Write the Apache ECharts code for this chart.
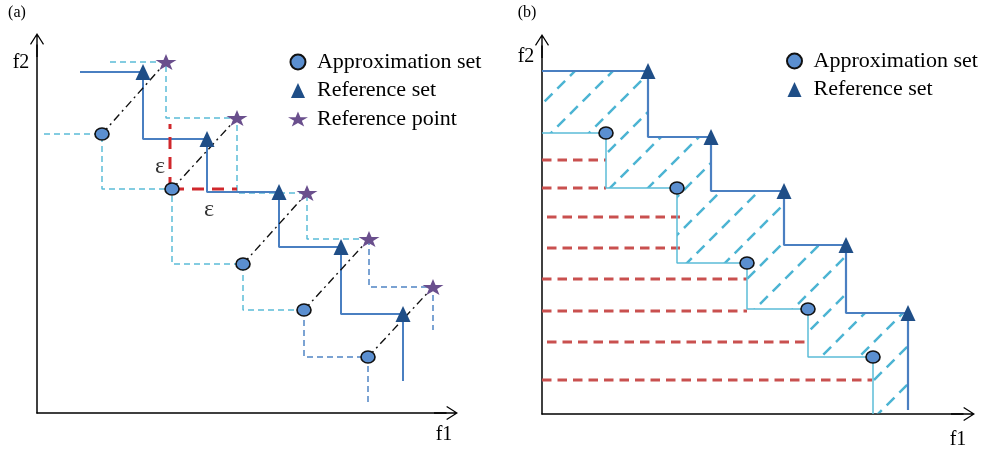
<!DOCTYPE html>
<html>
<head>
<meta charset="utf-8">
<script src="https://cdn.jsdelivr.net/npm/echarts@6/dist/echarts.min.js"></script>
<style>
  html, body { margin: 0; padding: 0; background: #fff; }
  #chart { width: 985px; height: 450px; }
</style>
</head>
<body>
<div id="chart"></div>
<script>
// ---------- Panel (a): additive epsilon indicator ----------
// objective vectors (f1, f2) of each set
const approxA = [[65, 279], [135, 224], [206, 149], [267, 103], [331, 56]];
const refA = [[106, 341], [170, 274], [242, 221], [304, 166], [366, 99]];
const refPointA = [[129, 351], [200, 295], [270, 220], [332, 174], [396, 126]];
// where each attainment front starts (f1) and where it ends (f2)
const approxAStart = 7, approxAEnd = 10;
const refAStart = 43, refAEnd = 32;
const pointAStart = 73, pointAEnd = 83;
// epsilon shift drawn at the second approximation point
const epsVertical = [[133, 224], [133, 289]];
const epsHorizontal = [[135, 224], [200, 224]];
const epsLabels = [[123, 246], [172, 203]];

// ---------- Panel (b): region between the fronts ----------
const approxB = [[64, 281], [135, 226], [205, 151], [266, 105], [331, 57]];
const refB = [[106, 343], [169, 277], [242, 223], [304, 169], [366, 101]];
const refBEnd = 4;
// horizontal dashed levels: f2 value, f1 start, f1 end
const levelsB = [254, 226, 197, 166, 135, 103, 72, 34];
const levelsBFrom = [0, 0, 5, 5, 0, 0, 5, 0];
const levelsBTo = [64, 64, 138, 138, 205, 205, 264, 330];

// ---------- helpers ----------
const SERIF = 'Liberation Serif, Times New Roman, serif';
// five-point star, slightly flattened
const STAR = 'path://M50,0 L61.8,28.1 L98.9,28.1 L69.1,45.4 L80.3,73.5 L50,56.2 L19.7,73.5 L30.9,45.4 L1.1,28.1 L38.2,28.1 Z';
const TRI = 'path://M7.5,0 L15,16 L0,16 Z';
// open chevron with a short shaft, tip at the top
const ARROW = 'path://M0,11 L7,0 L14,11 L13,11.7 L7,2.2 L1,11.7 Z M6.3,1 L7.7,1 L7.7,24 L6.3,24 Z';

// step-shaped front through a set of points
function staircase(pts, startX, endY) {
  const out = [[startX, pts[0][1]]];
  pts.forEach((p, i) => {
    out.push([p[0], p[1]]);
    out.push([p[0], i < pts.length - 1 ? pts[i + 1][1] : endY]);
  });
  return out;
}

function lineSeries(grid, data, color, width, type, z) {
  return {
    type: 'line', xAxisIndex: grid, yAxisIndex: grid, data: data,
    symbol: 'none', silent: true, animation: false, z: z || 2,
    lineStyle: { color: color, width: width, type: type || 'solid', cap: 'butt' }
  };
}

const CYAN = '#5bbcd7';
const BLUE = '#4f84c4';
const FRONT = '#4a7fc1';
const RED_A = '#d0282c';
const RED_B = '#c9504f';

const approxStepA = staircase(approxA, approxAStart, approxAEnd);
const refStepA = staircase(refA, refAStart, refAEnd);
const pointStepA = staircase(refPointA, pointAStart, pointAEnd);
const approxStepB = staircase(approxB, 0, 0);
const refStepB = staircase(refB, 0, refBEnd);
const hatchPolygon = refStepB.concat(approxStepB.slice().reverse());

// diagonal dashed hatch tile
const TILE = 38;
const tile = document.createElement('canvas');
tile.width = TILE; tile.height = TILE;
(function () {
  const c = tile.getContext('2d');
  const period = TILE * Math.SQRT2 / 3;
  c.strokeStyle = '#4cb4d3';
  c.lineWidth = 2.5;
  c.setLineDash([11, period - 11]);
  const ext = 5;
  c.lineDashOffset = period - ext * Math.SQRT2;
  [-TILE, 0, TILE].forEach(off => {
    c.beginPath();
    c.moveTo(off - ext, TILE + ext);
    c.lineTo(off + TILE + ext, -ext);
    c.stroke();
  });
})();

const series = [];

// hatched region between the two fronts (b)
series.push({
  type: 'custom', xAxisIndex: 1, yAxisIndex: 1, data: [0], silent: true, z: 1,
  renderItem: function (params, api) {
    return {
      type: 'polygon',
      shape: { points: hatchPolygon.map(p => api.coord(p)) },
      style: { fill: { image: tile, repeat: 'repeat' }, stroke: null }
    };
  }
});

// (b) dashed levels
levelsB.forEach((y, i) => {
  series.push(lineSeries(1, [[levelsBFrom[i], y], [levelsBTo[i], y]], RED_B, 3, [9.5, 6], 2));
});

// (a) dominated-region borders
series.push(lineSeries(0, approxStepA.slice(0, 8), CYAN, 1.5, [6, 4]));
series.push(lineSeries(0, approxStepA.slice(7), BLUE, 1.5, [6, 4]));
series.push(lineSeries(0, pointStepA.slice(0, 8), CYAN, 1.5, [6, 4]));
series.push(lineSeries(0, pointStepA.slice(7), BLUE, 1.5, [6, 4]));
series.push(lineSeries(0, refStepA, FRONT, 2, 'solid', 3));
// (a) epsilon shift
series.push(lineSeries(0, epsVertical, RED_A, 3, [12, 8], 4));
series.push(lineSeries(0, epsHorizontal, RED_A, 3, [12, 8], 4));
// (a) approximation point -> reference point
approxA.forEach((p, i) => {
  series.push(lineSeries(0, [p, refPointA[i]], '#111', 1.4, [8, 4, 2, 4], 4));
});
// (b) fronts
series.push(lineSeries(1, approxStepB, CYAN, 1.5, 'solid', 3));
series.push(lineSeries(1, refStepB, FRONT, 2.2, 'solid', 3));

// markers
const circleStyle = { color: '#5b8fd0', borderColor: '#111', borderWidth: 1.5, opacity: 1 };
const triStyle = { color: '#1f4e87', opacity: 1 };
const starStyle = { color: '#6a4f8d', opacity: 1 };
[0, 1].forEach(g => {
  series.push({
    name: 'Approximation set', type: 'scatter', xAxisIndex: g, yAxisIndex: g,
    data: g === 0 ? approxA : approxB, symbol: 'circle', symbolSize: [14, 12],
    itemStyle: circleStyle, z: 6, silent: true, animation: false
  });
  series.push({
    name: 'Reference set', type: 'scatter', xAxisIndex: g, yAxisIndex: g,
    data: g === 0 ? refA : refB, symbol: TRI, symbolSize: [15, 16],
    itemStyle: triStyle, z: 6, silent: true, animation: false
  });
});
series.push({
  name: 'Reference point', type: 'scatter', xAxisIndex: 0, yAxisIndex: 0,
  data: refPointA, symbol: STAR, symbolSize: [21, 16],
  itemStyle: starStyle, z: 6, silent: true, animation: false
});
// epsilon labels
series.push({
  type: 'scatter', xAxisIndex: 0, yAxisIndex: 0, data: epsLabels,
  symbolSize: 1, itemStyle: { color: 'rgba(0,0,0,0)' }, silent: true, animation: false, z: 7,
  label: { show: true, position: 'inside', formatter: 'ε', fontFamily: SERIF, fontSize: 24, color: '#000' }
});

function axis(gridIndex, max) {
  return {
    gridIndex: gridIndex, type: 'value', min: 0, max: max,
    axisLine: { show: true, onZero: false, lineStyle: { color: '#000', width: 1.5 },
                symbol: ['none', ARROW], symbolSize: [14, 24] },
    axisTick: { show: false }, axisLabel: { show: false }, splitLine: { show: false }
  };
}

const legendText = { fontFamily: SERIF, fontSize: 22, color: '#000', lineHeight: 22, padding: [0, 0, 0, 3] };

const option = {
  backgroundColor: '#fff',
  animation: false,
  grid: [
    { left: 37, top: 45, width: 409, height: 368 },
    { left: 542, top: 46, width: 421, height: 368 }
  ],
  xAxis: [axis(0, 409), axis(1, 421)],
  yAxis: [axis(0, 368), axis(1, 368)],
  legend: [
    {
      left: 288, top: 51, orient: 'vertical', padding: 0, itemGap: 6.5,
      itemWidth: 22, itemHeight: 15, symbolKeepAspect: true, selectedMode: false, textStyle: legendText,
      data: [
        { name: 'Approximation set', icon: 'circle' },
        { name: 'Reference set', icon: TRI },
        { name: 'Reference point', icon: STAR }
      ]
    },
    {
      left: 786, top: 50, orient: 'vertical', padding: 0, itemGap: 6.5,
      itemWidth: 22, itemHeight: 15, symbolKeepAspect: true, selectedMode: false, textStyle: legendText,
      data: [
        { name: 'Approximation set', icon: 'circle' },
        { name: 'Reference set', icon: TRI }
      ]
    }
  ],
  graphic: [
    { type: 'text', x: 17, y: 13, style: { text: '(a)', font: '16px ' + SERIF, fill: '#000', textAlign: 'center', textVerticalAlign: 'middle' } },
    { type: 'text', x: 527, y: 13, style: { text: '(b)', font: '16px ' + SERIF, fill: '#000', textAlign: 'center', textVerticalAlign: 'middle' } },
    { type: 'text', x: 21, y: 63, style: { text: 'f2', font: '20px ' + SERIF, fill: '#000', textAlign: 'center', textVerticalAlign: 'middle' } },
    { type: 'text', x: 444, y: 435, style: { text: 'f1', font: '20px ' + SERIF, fill: '#000', textAlign: 'center', textVerticalAlign: 'middle' } },
    { type: 'text', x: 526, y: 57, style: { text: 'f2', font: '20px ' + SERIF, fill: '#000', textAlign: 'center', textVerticalAlign: 'middle' } },
    { type: 'text', x: 958, y: 440, style: { text: 'f1', font: '20px ' + SERIF, fill: '#000', textAlign: 'center', textVerticalAlign: 'middle' } }
  ],
  series: series
};

const chart = echarts.init(document.getElementById('chart'), null, { renderer: 'canvas' });
chart.setOption(option);
</script>
</body>
</html>
